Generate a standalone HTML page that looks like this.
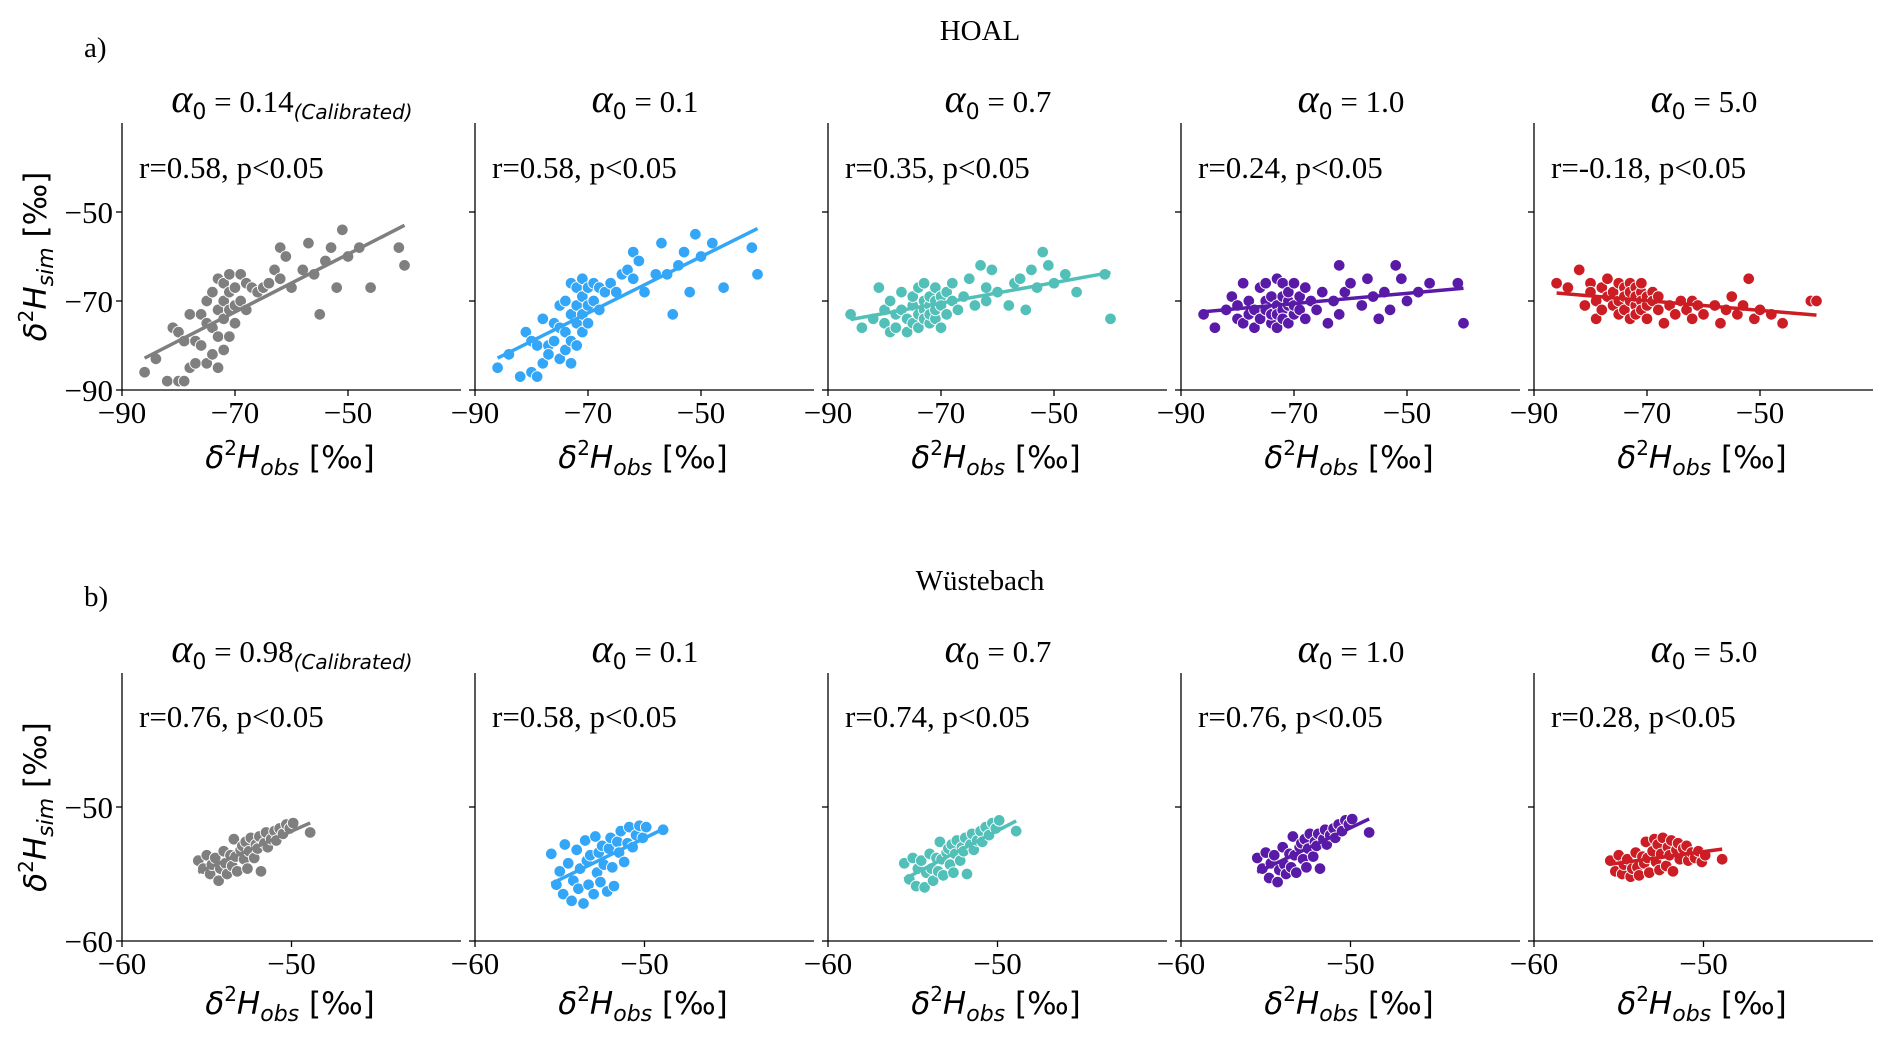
<!DOCTYPE html>
<html><head><meta charset="utf-8"><style>
html,body{margin:0;padding:0;background:#fff;}
svg text{font-family:"Liberation Serif",serif;fill:#000;}
.ax{font-family:"DejaVu Sans",sans-serif;}
</style></head><body>
<svg id="fig" width="1892" height="1039" viewBox="0 0 1892 1039" xmlns="http://www.w3.org/2000/svg">
<rect width="1892" height="1039" fill="#fff"/>
<text x="980" y="40" font-size="29" text-anchor="middle">HOAL</text>
<text x="84" y="57" font-size="29">a)</text>
<text x="980" y="590" font-size="29" text-anchor="middle">Wüstebach</text>
<text x="84" y="606" font-size="29">b)</text>
<g id="plots"></g>
</svg>
<script>
// ---- data ----
const alphaLabels = ["0.14", "0.1", "0.7", "1.0", "5.0"];
const alphaLabelsW = ["0.98", "0.1", "0.7", "1.0", "5.0"];
const rTextH = ["r=0.58, p<0.05","r=0.58, p<0.05","r=0.35, p<0.05","r=0.24, p<0.05","r=-0.18, p<0.05"];
const rTextW = ["r=0.76, p<0.05","r=0.58, p<0.05","r=0.74, p<0.05","r=0.76, p<0.05","r=0.28, p<0.05"];
const colors = ["#7f7f7f","#33a6f7","#52c0b8","#5a1aa8","#cc1c24"];
const xTicksH = [-90,-70,-50];
const yTicksH = [-90,-70,-50];
const xTicksW = [-60,-50];
const yTicksW = [-60,-50];

const obsH = [-86,-84,-82,-81,-80,-80,-79,-79,-78,-78,-77,-77,-76,-76,-75,-75,-75,-74,-74,-74,-73,-73,-73,-73,-72,-72,-72,-72,-71,-71,-71,-71,-70,-70,-70,-69,-69,-68,-68,-67,-66,-65,-64,-63,-62,-62,-61,-60,-58,-57,-56,-55,-54,-53,-52,-51,-50,-48,-46,-41,-40];
const simH0 = [-86,-83,-88,-76,-88,-77,-88,-79,-85,-73,-79,-84,-80,-73,-84,-75,-70,-82,-76,-68,-85,-78,-72,-65,-81,-74,-70,-66,-78,-72,-68,-64,-75,-71,-67,-70,-64,-72,-66,-67,-68,-67,-66,-63,-58,-65,-60,-67,-63,-57,-64,-73,-61,-58,-67,-54,-60,-58,-67,-58,-62];
const simH1 = [-85,-82,-87,-77,-86,-79,-87,-80,-84,-74,-80,-82,-79,-75,-83,-76,-71,-81,-77,-70,-84,-79,-73,-66,-80,-75,-71,-67,-77,-73,-69,-65,-75,-71,-67,-70,-66,-72,-67,-68,-66,-68,-64,-63,-59,-65,-61,-68,-64,-57,-64,-73,-62,-59,-68,-55,-60,-57,-67,-58,-64];
const simH2 = [-73,-76,-74,-67,-72,-75,-77,-70,-73,-76,-72,-68,-74,-77,-71,-75,-69,-73,-76,-67,-72,-74,-70,-66,-75,-71,-69,-73,-70,-74,-67,-72,-76,-69,-71,-73,-68,-70,-66,-72,-69,-65,-71,-62,-67,-70,-63,-68,-71,-66,-65,-72,-63,-67,-59,-62,-66,-64,-68,-64,-74];
const simH3 = [-73,-76,-72,-69,-74,-71,-66,-75,-70,-73,-72,-76,-67,-74,-70,-72,-66,-75,-73,-69,-71,-76,-73,-65,-72,-69,-74,-66,-71,-75,-70,-68,-73,-71,-66,-72,-69,-74,-67,-70,-72,-68,-75,-70,-62,-73,-68,-66,-71,-65,-69,-74,-68,-72,-62,-65,-70,-68,-66,-66,-75];
const simH4 = [-66,-67,-63,-71,-66,-68,-74,-70,-67,-72,-69,-65,-71,-68,-66,-70,-73,-67,-69,-72,-66,-70,-68,-74,-67,-71,-69,-73,-68,-70,-72,-66,-71,-69,-74,-68,-70,-72,-69,-75,-71,-73,-70,-72,-70,-74,-71,-73,-71,-75,-72,-69,-73,-71,-65,-74,-72,-73,-75,-70,-70];

const obsW = [-55.5,-55.2,-55,-54.8,-54.7,-54.5,-54.3,-54.2,-54,-53.9,-53.8,-53.6,-53.5,-53.4,-53.3,-53.2,-53,-52.9,-52.8,-52.7,-52.6,-52.5,-52.4,-52.2,-52.1,-52,-51.9,-51.8,-51.6,-51.5,-51.4,-51.2,-51,-50.9,-50.7,-50.5,-50.3,-50.1,-49.9,-48.9];
const simW0 = [-54.0,-54.6,-53.6,-55.0,-54.3,-53.8,-55.5,-54.6,-53.3,-54.2,-55.0,-53.6,-54.4,-52.4,-53.7,-54.8,-53.2,-52.9,-53.9,-52.6,-54.6,-53.3,-52.3,-53.8,-52.8,-53.1,-52.2,-54.8,-52.7,-51.9,-53.0,-52.4,-51.8,-52.5,-51.6,-52.0,-51.3,-51.6,-51.2,-51.9];
const simW1 = [-53.5,-55.8,-54.8,-56.5,-52.8,-54.2,-57.0,-55.5,-53.2,-56.1,-54.6,-57.2,-52.5,-54.0,-55.8,-53.6,-56.5,-52.2,-54.9,-53.4,-55.6,-52.9,-54.3,-56.3,-53.1,-52.3,-54.5,-55.9,-52.6,-53.4,-51.8,-54.1,-52.7,-51.5,-53.0,-52.1,-51.4,-52.3,-51.5,-51.7];
const simW2 = [-54.2,-55.4,-53.8,-55.9,-54.6,-54.0,-56.0,-54.9,-53.5,-54.6,-55.5,-53.8,-54.8,-52.6,-53.9,-55.1,-53.4,-53.1,-54.3,-52.8,-54.9,-53.5,-52.5,-54.0,-53.0,-53.3,-52.3,-55.0,-52.8,-52.0,-53.2,-52.5,-51.8,-52.6,-51.5,-52.1,-51.2,-51.6,-51.0,-51.8];
const simW3 = [-53.8,-54.6,-53.4,-55.3,-54.2,-53.6,-55.6,-54.7,-53.0,-54.3,-55.0,-53.5,-54.5,-52.2,-53.6,-54.9,-53.0,-52.7,-53.9,-52.4,-54.5,-53.1,-52.0,-53.7,-52.6,-52.9,-52.0,-54.6,-52.4,-51.7,-52.8,-52.1,-51.6,-52.3,-51.3,-51.8,-51.0,-51.3,-50.9,-51.9];
const simW4 = [-54.0,-54.8,-53.6,-55.0,-54.3,-53.9,-55.2,-54.6,-53.4,-54.5,-55.1,-53.7,-54.2,-52.6,-53.8,-54.9,-53.3,-52.4,-54.1,-52.8,-54.7,-53.5,-52.3,-54.4,-53.0,-53.6,-52.5,-54.8,-53.2,-52.7,-53.9,-53.1,-52.9,-54.0,-53.4,-53.8,-53.3,-54.1,-53.6,-53.9];

const simHAll = [simH0, simH1, simH2, simH3, simH4];
const simWAll = [simW0, simW1, simW2, simW3, simW4];

// ---- drawing ----
const NS = "http://www.w3.org/2000/svg";
const root = document.getElementById("plots");
function mk(tag, attrs, parent, txt) {
  const e = document.createElementNS(NS, tag);
  for (const k in attrs) e.setAttribute(k, attrs[k]);
  if (txt !== undefined) e.textContent = txt;
  (parent || root).appendChild(e);
  return e;
}
function fit(xs, ys) {
  const n = xs.length; let mx = 0, my = 0;
  for (let i = 0; i < n; i++) { mx += xs[i]; my += ys[i]; }
  mx /= n; my /= n; let sxy = 0, sxx = 0;
  for (let i = 0; i < n; i++) { sxy += (xs[i]-mx)*(ys[i]-my); sxx += (xs[i]-mx)**2; }
  const b = sxy / sxx; return [b, my - b*mx];
}

function panel(row, i) {
  const L = 122 + 353 * i, W = 339;
  const T = row === 0 ? 123 : 673, B = row === 0 ? 390 : 941;
  const xmin = row === 0 ? -90 : -60, xmax = row === 0 ? -30 : -40;
  const ymin = xmin, ymax = xmax;
  const sx = v => L + (v - xmin) / (xmax - xmin) * W;
  const sy = v => B - (v - ymin) / (ymax - ymin) * (B - T);
  const xs = row === 0 ? obsH : obsW;
  const ys = row === 0 ? simHAll[i] : simWAll[i];
  const xt = row === 0 ? xTicksH : xTicksW;
  const yt = row === 0 ? yTicksH : yTicksW;
  const col = colors[i];
  const g = mk("g", {});
  
  

  // title
  const tt = mk("text", {x: L + 170, y: row === 0 ? 112 : 662, "font-size": 31, "text-anchor": "middle"}, g);
  
  
  mk("tspan", {"font-style": "italic", "font-size": 40}, tt, "α");
  mk("tspan", {"font-size": 22, dy: 7, "font-family": "DejaVu Sans,sans-serif"}, tt, "0");
  mk("tspan", {dy: -7}, tt, " = " + (row === 0 ? alphaLabels[i] : alphaLabelsW[i]));
  if (i === 0) {
    mk("tspan", {"font-size": 20, dy: 7, "font-style": "italic", "font-family": "DejaVu Sans,sans-serif"}, tt, "(Calibrated)");
  }

  // points
  for (let k = 0; k < xs.length; k++) {
    const c = mk("circle", {cx: sx(xs[k]), cy: sy(ys[k]), r: 5.8, fill: col, stroke: "#fff", "stroke-width": 0.9}, g);
    
    
  }
  // regression line
  const [b, a0] = fit(xs, ys);
  const x0 = Math.min(...xs), x1 = Math.max(...xs);
  const ln = mk("line", {x1: sx(x0), y1: sy(a0 + b*x0), x2: sx(x1), y2: sy(a0 + b*x1), stroke: col, "stroke-width": 3.5}, g);
  
  

  // axes
  const ya = mk("line", {x1: L, y1: T, x2: L, y2: B, stroke: "#000", "stroke-width": 1.3}, g);
  
  
  const xa = mk("line", {x1: L, y1: B, x2: L + W, y2: B, stroke: "#000", "stroke-width": 1.3}, g);
  
  
  xt.forEach(v => {
    mk("line", {x1: sx(v), y1: B, x2: sx(v), y2: B + 6, stroke: "#000", "stroke-width": 1.3}, g);
    const t = mk("text", {x: sx(v), y: B + 33, "font-size": 31, "text-anchor": "middle"}, g, "−" + Math.abs(v));
    
    
  });
  yt.forEach(v => {
    mk("line", {x1: L - 6, y1: sy(v), x2: L, y2: sy(v), stroke: "#000", "stroke-width": 1.3}, g);
    if (i === 0) {
      const t = mk("text", {x: L - 9, y: sy(v) + 11, "font-size": 31, "text-anchor": "end"}, g, "−" + Math.abs(v));
      
      
    }
  });
  // r text
  const rt = mk("text", {x: L + 17, y: row === 0 ? 178 : 727, "font-size": 31}, g, row === 0 ? rTextH[i] : rTextW[i]);
  
  
  // x label
  const xl = mk("text", {x: L + 168, y: row === 0 ? 468 : 1014, "font-size": 31, "text-anchor": "middle", class: "ax"}, g);
  
  
  mk("tspan", {"font-style": "italic"}, xl, "δ");
  mk("tspan", {"font-size": 20, dy: -13}, xl, "2");
  mk("tspan", {"font-style": "italic", dy: 13}, xl, "H");
  mk("tspan", {"font-style": "italic", "font-size": 22, dy: 7}, xl, "obs");
  mk("tspan", {dy: -7}, xl, " [‰]");
  if (i === 0) {
    const cy = (T + B) / 2;
    const yl = mk("text", {x: 0, y: 0, "font-size": 31, "text-anchor": "middle", class: "ax", transform: `translate(46,${cy}) rotate(-90)`}, g);
    
    
    mk("tspan", {"font-style": "italic"}, yl, "δ");
    mk("tspan", {"font-size": 20, dy: -13}, yl, "2");
    mk("tspan", {"font-style": "italic", dy: 13}, yl, "H");
    mk("tspan", {"font-style": "italic", "font-size": 22, dy: 7}, yl, "sim");
    mk("tspan", {dy: -7}, yl, " [‰]");
  }
}
for (let r = 0; r < 2; r++) for (let i = 0; i < 5; i++) panel(r, i);
</script>
</body></html>
